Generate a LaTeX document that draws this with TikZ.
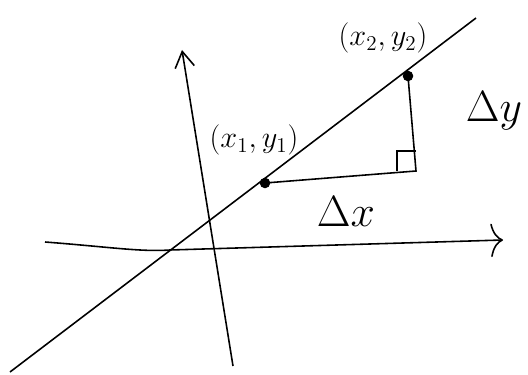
\documentclass[tikz,border=0pt]{standalone}
\usetikzlibrary{arrows.meta}
\begin{document}
\begin{tikzpicture}[x=0.02cm,y=-0.02cm,line width=0.9pt]
	\useasboundingbox (0,0) rectangle (528,375);
	\coordinate (xl) at (45,242);
	\coordinate (xr) at (503,240);
	\coordinate (yb) at (233,366);
	\coordinate (yt) at (182,50);
	\coordinate (la) at (10,372);
	\coordinate (lb) at (476,18);
	\coordinate (p1) at (265,183);
	\coordinate (p2) at (408,76);
	\coordinate (c) at (416,171);
	\draw[->,>={To[length=7pt,width=19pt]}](xl) .. controls (110,247) and (140,252) .. (170,250) -- (xr);
	\draw[->,>={Straight Barb[length=9pt,width=11pt]}](yb)--(yt);
	\draw(la)--(lb);
	\draw(p1)--(c)--(p2);
	\draw(c) ++(-19,0) -- ++(0,-20) -- ++(19,0);
	\fill(p1) circle(3pt);
	\fill(p2) circle(3pt);
	\node (p1lbl) at (254,140) {{\fontsize{18}{22}\selectfont $(x_1,y_1)$}};
	\node (p2lbl) at (383,38) {{\fontsize{18}{22}\selectfont $(x_2,y_2)$}};
	\node (dx) at (346,212) {{\fontsize{25}{30}\selectfont $\Delta x$}};
	\node (dy) at (494,111) {{\fontsize{25}{30}\selectfont $\Delta y$}};
\end{tikzpicture}
\end{document}
